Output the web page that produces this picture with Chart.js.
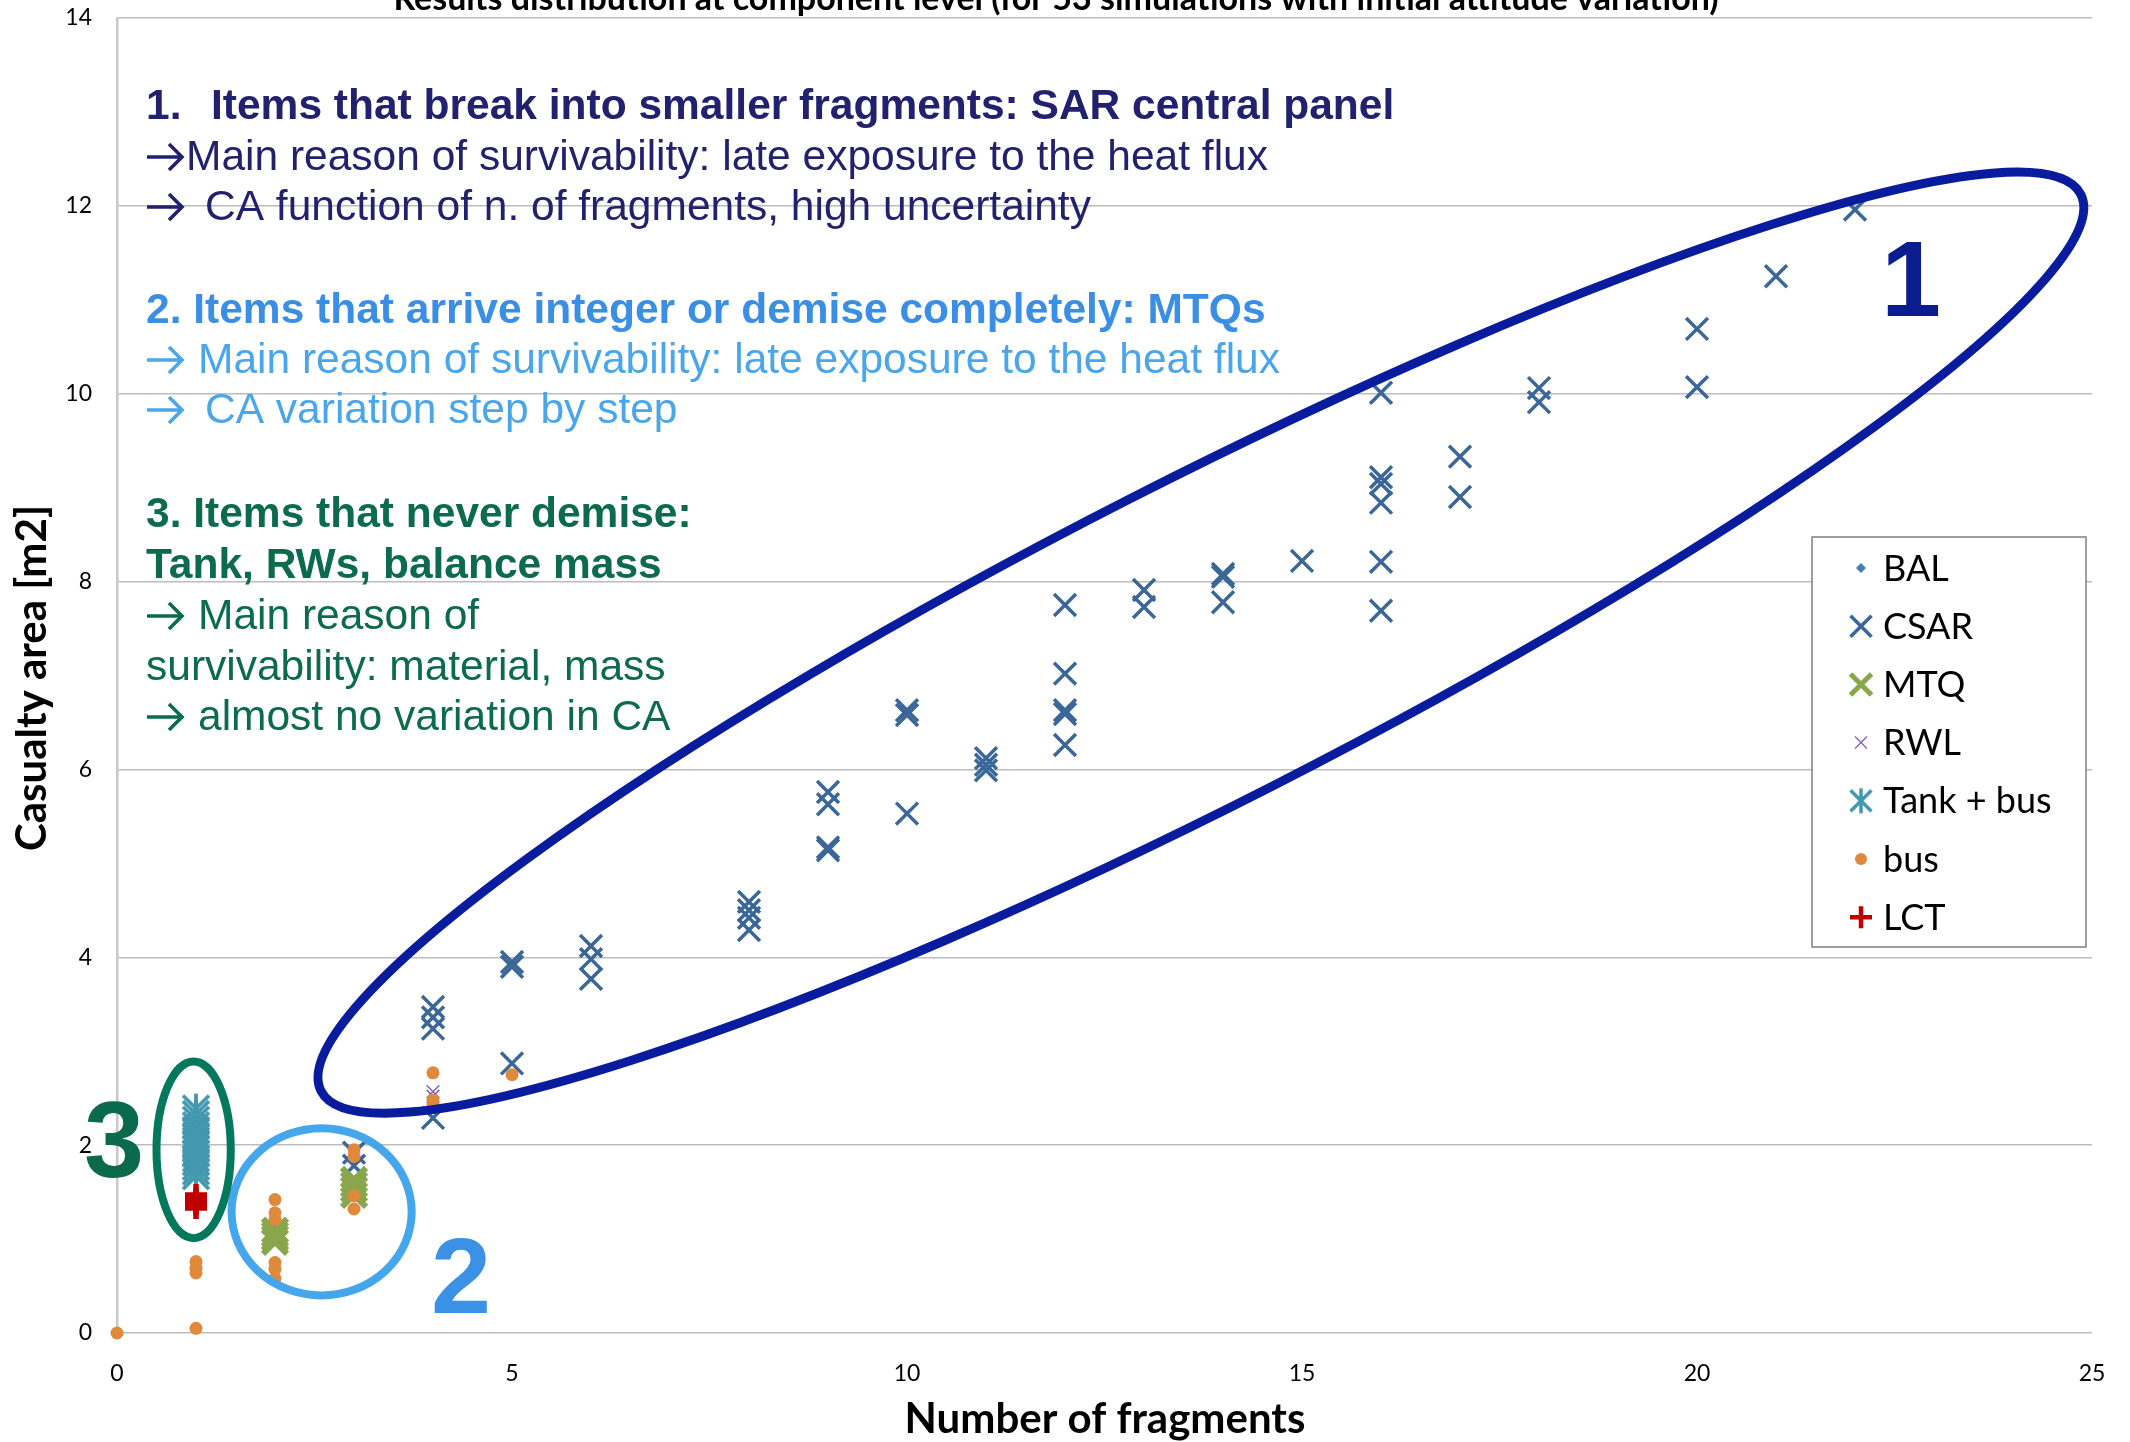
<!DOCTYPE html>
<html>
<head>
<meta charset="utf-8">
<script src="https://cdn.jsdelivr.net/npm/chart.js@4.4.1/dist/chart.umd.min.js"></script>
<style>
  html, body { margin: 0; padding: 0; background: #ffffff; }
  #wrap { width: 2130px; height: 1442px; }
</style>
</head>
<body>
<div id="wrap"><canvas id="c" width="2130" height="1442"></canvas></div>
<script>
// Number of fragments (x) and casualty area in m2 (y) for each component type
const balFragments = [1, 2];
const balArea      = [0.66, 1.16];

const csarFragments = [3, 3,  4, 4, 4, 4,  5, 5, 5,  6, 6, 6,  8, 8, 8, 8,  9, 9, 9, 9,
                       10, 10, 10,  11, 11, 11,  12, 12, 12, 12, 12,  13, 13,  14, 14, 14,  15,
                       16, 16, 16, 16, 16, 16,  17, 17,  18, 18,  20, 20,  21,  22];
const csarArea = [1.92, 1.78,  3.47, 3.36, 3.24, 2.29,  3.95, 3.90, 2.87,  4.12, 3.98, 3.77,
                  4.59, 4.50, 4.42, 4.29,  5.76, 5.63, 5.17, 5.14,  6.63, 6.58, 5.53,
                  6.12, 6.05, 5.99,  7.75, 7.02, 6.63, 6.59, 6.26,  7.91, 7.73,  8.08, 8.05, 7.78,
                  8.22,  10.01, 9.11, 9.04, 8.84, 8.21, 7.69,  9.33, 8.90,  10.06, 9.91,
                  10.69, 10.07,  11.25,  11.96];

const mtqFragments = [2, 2, 2, 2,  3, 3, 3, 3];
const mtqArea      = [1.09, 1.05, 1.01, 0.97,  1.63, 1.58, 1.53, 1.47];

const rwlFragments = [4, 4];
const rwlArea      = [2.57, 2.52];

const tankFragments = [1, 1, 1, 1, 1, 1, 1, 1, 1, 1, 1, 1, 1, 1, 1];
const tankArea      = [2.39, 2.33, 2.27, 2.21, 2.16, 2.10, 2.05, 2.00, 1.96, 1.91, 1.86, 1.82, 1.77, 1.72, 1.67];

const busFragments = [0,  1, 1, 1, 1,  2, 2, 2, 2, 2, 2,  3, 3, 3, 3,  4, 4, 4,  5];
const busArea      = [0,  0.76, 0.69, 0.64, 0.05,  1.42, 1.28, 1.21, 0.75, 0.68, 0.58,
                      1.95, 1.88, 1.46, 1.32,  2.77, 2.48, 2.43,  2.75];

const lctFragments = [1, 1, 1, 1];
const lctArea      = [1.47, 1.42, 1.37, 1.33];

const seriesNames = ['BAL', 'CSAR', 'MTQ', 'RWL', 'Tank + bus', 'bus', 'LCT'];
const xTickValues = [0, 5, 10, 15, 20, 25];
const yTickValues = [0, 2, 4, 6, 8, 10, 12, 14];

const chartTitle = 'Results distribution at component level (for 53 simulations with initial attitude variation)';
const xTitle = 'Number of fragments';
const yTitle = 'Casualty area [m2]';

const pts = (xs, ys) => xs.map((x, i) => ({ x: x, y: ys[i] }));

// Excel-style asterisk marker (X with a vertical bar)
function asteriskMarker(size, half, color, lw) {
  const c = document.createElement('canvas');
  c.width = size; c.height = size;
  const g = c.getContext('2d');
  const m = size / 2;
  g.strokeStyle = color; g.lineWidth = lw;
  g.beginPath();
  g.moveTo(m - half, m - half); g.lineTo(m + half, m + half);
  g.moveTo(m + half, m - half); g.lineTo(m - half, m + half);
  g.moveTo(m, m - half - 2); g.lineTo(m, m + half + 2);
  g.stroke();
  return c;
}

const COLORS = {
  bal: '#4a7bb8', csar: '#3a6698', mtq: '#88a64b', rwl: '#8668a8',
  tank: '#4398b0', bus: '#e0893c', lct: '#c00000'
};
const tankMarker = asteriskMarker(34, 13, COLORS.tank, 3.8);
const tankLegendMarker = asteriskMarker(28, 10.5, COLORS.tank, 3.5);

const datasets = [
  { label: seriesNames[0], data: pts(balFragments, balArea), pointStyle: 'rectRot', pointRadius: 6,
    backgroundColor: COLORS.bal, borderColor: COLORS.bal, borderWidth: 0, order: 6 },
  { label: seriesNames[1], data: pts(csarFragments, csarArea), pointStyle: 'crossRot', pointRadius: 15.5,
    backgroundColor: COLORS.csar, borderColor: COLORS.csar, borderWidth: 3.5, order: 5 },
  { label: seriesNames[2], data: pts(mtqFragments, mtqArea), pointStyle: 'crossRot', pointRadius: 17,
    backgroundColor: COLORS.mtq, borderColor: COLORS.mtq, borderWidth: 6, order: 4 },
  { label: seriesNames[3], data: pts(rwlFragments, rwlArea), pointStyle: 'crossRot', pointRadius: 9,
    backgroundColor: COLORS.rwl, borderColor: COLORS.rwl, borderWidth: 1.6, order: 3 },
  { label: seriesNames[4], data: pts(tankFragments, tankArea), pointStyle: tankMarker,
    backgroundColor: COLORS.tank, borderColor: COLORS.tank, order: 2 },
  { label: seriesNames[5], data: pts(busFragments, busArea), pointStyle: 'circle', pointRadius: 6.5,
    backgroundColor: COLORS.bus, borderColor: COLORS.bus, borderWidth: 0, order: 1 },
  { label: seriesNames[6], data: pts(lctFragments, lctArea), pointStyle: 'cross', pointRadius: 11,
    backgroundColor: COLORS.lct, borderColor: COLORS.lct, borderWidth: 5.5, order: 0 }
];
datasets.forEach(d => { d.clip = false; d.showLine = false; });

// Legend marker painter (same shapes as the plotted points)
function legendMarker(ctx, idx, x, y) {
  ctx.save();
  switch (idx) {
    case 0:
      ctx.fillStyle = COLORS.bal;
      ctx.beginPath(); ctx.moveTo(x, y - 5); ctx.lineTo(x + 5, y); ctx.lineTo(x, y + 5); ctx.lineTo(x - 5, y); ctx.closePath(); ctx.fill();
      break;
    case 1: case 2: case 3: {
      const col = idx === 1 ? COLORS.csar : idx === 2 ? COLORS.mtq : COLORS.rwl;
      const h = idx === 3 ? 6 : 10.5;
      ctx.strokeStyle = col; ctx.lineWidth = idx === 1 ? 3.5 : idx === 2 ? 5 : 1.4;
      ctx.beginPath(); ctx.moveTo(x - h, y - h); ctx.lineTo(x + h, y + h);
      ctx.moveTo(x + h, y - h); ctx.lineTo(x - h, y + h); ctx.stroke();
      break;
    }
    case 4:
      ctx.drawImage(tankLegendMarker, x - tankLegendMarker.width / 2, y - tankLegendMarker.height / 2);
      break;
    case 5:
      ctx.fillStyle = COLORS.bus;
      ctx.beginPath(); ctx.arc(x, y, 6, 0, Math.PI * 2); ctx.fill();
      break;
    case 6:
      ctx.strokeStyle = COLORS.lct; ctx.lineWidth = 4.5;
      ctx.beginPath(); ctx.moveTo(x - 11, y); ctx.lineTo(x + 11, y); ctx.moveTo(x, y - 11); ctx.lineTo(x, y + 11); ctx.stroke();
      break;
  }
  ctx.restore();
}

// Bullet arrow in front of a note line
function drawArrow(ctx, baseline, color) {
  const y = baseline - 13, x0 = 147, x1 = 182;
  ctx.save();
  ctx.strokeStyle = color; ctx.lineWidth = 3.6; ctx.lineCap = 'butt'; ctx.lineJoin = 'miter';
  ctx.beginPath();
  ctx.moveTo(x0, y); ctx.lineTo(x1 - 2, y);
  ctx.moveTo(x1 - 13, y - 13); ctx.lineTo(x1, y); ctx.lineTo(x1 - 13, y + 13);
  ctx.stroke();
  ctx.restore();
}

// Notes written over the plot: optional arrow, then text
const NAVY = '#21216e', SKY = '#3a8fe4', SKY_LIGHT = '#4aa6ea', GREEN = '#0b6b4c';
const BOLD = 'bold 42.5px "Liberation Sans"', REG = '42.5px "Liberation Sans"';
const noteLines = [
  { arrow: false, t: '1.', x: 146, y: 119, font: BOLD, c: NAVY },
  { arrow: false, t: 'Items that break into smaller fragments: SAR central panel', x: 211, y: 119, font: BOLD, c: NAVY },
  { arrow: true, t: 'Main reason of survivability: late exposure to the heat flux', x: 186, y: 170, font: REG, c: NAVY },
  { arrow: true, t: 'CA function of n. of fragments, high uncertainty', x: 205, y: 220, font: REG, c: NAVY },
  { arrow: false, t: '2. Items that arrive integer or demise completely: MTQs', x: 146, y: 323, font: BOLD, c: SKY },
  { arrow: true, t: 'Main reason of survivability: late exposure to the heat flux', x: 198, y: 373, font: REG, c: SKY_LIGHT },
  { arrow: true, t: 'CA variation step by step', x: 205, y: 423, font: REG, c: SKY_LIGHT },
  { arrow: false, t: '3. Items that never demise:', x: 146, y: 527, font: BOLD, c: GREEN },
  { arrow: false, t: 'Tank, RWs, balance mass', x: 146, y: 578, font: BOLD, c: GREEN },
  { arrow: true, t: 'Main reason of', x: 198, y: 629, font: REG, c: GREEN },
  { arrow: false, t: 'survivability: material, mass', x: 146, y: 680, font: REG, c: GREEN },
  { arrow: true, t: 'almost no variation in CA', x: 198, y: 730, font: REG, c: GREEN }
];

const overlay = {
  id: 'overlay',
  afterDatasetsDraw(chart) {
    const ctx = chart.ctx;
    const xs = chart.scales.x, ys = chart.scales.y;
    const ux = xs.getPixelForValue(1) - xs.getPixelForValue(0);
    const uy = ys.getPixelForValue(0) - ys.getPixelForValue(1);

    // group outlines
    const ring = (cx, cy, rx, ry, rot, color, lw) => {
      ctx.save();
      ctx.strokeStyle = color; ctx.lineWidth = lw;
      ctx.beginPath();
      ctx.ellipse(xs.getPixelForValue(cx), ys.getPixelForValue(cy), rx, ry, rot, 0, Math.PI * 2);
      ctx.stroke();
      ctx.restore();
    };
    ring(13.72, 7.35, 12.5 * ux, 2.03 * ux, -27 * Math.PI / 180, '#0a1c9e', 9);
    ring(2.59, 1.29, 1.14 * ux, 0.89 * uy, 0, '#45a6ec', 8);
    ring(0.97, 1.95, 0.47 * ux, 0.94 * uy, 0, '#04785c', 8);

    // group numbers
    ctx.save();
    ctx.textAlign = 'center'; ctx.textBaseline = 'alphabetic';
    ctx.font = 'bold 108px "Liberation Sans"';
    ctx.fillStyle = '#0b1c8e'; ctx.fillText('1', 1911, 316);
    ctx.fillStyle = '#3a91e6'; ctx.fillText('2', 461, 1313);
    ctx.fillStyle = '#0a6b4c'; ctx.fillText('3', 114, 1177);
    ctx.restore();

    // notes
    ctx.save();
    ctx.textAlign = 'left'; ctx.textBaseline = 'alphabetic';
    noteLines.forEach(l => {
      if (l.arrow) drawArrow(ctx, l.y, l.c);
      ctx.fillStyle = l.c;
      ctx.font = l.font;
      ctx.fillText(l.t, l.x, l.y);
    });
    ctx.restore();

    // title (partly above the canvas edge)
    ctx.save();
    ctx.textAlign = 'center'; ctx.textBaseline = 'alphabetic';
    ctx.font = 'bold 34px Lato'; ctx.fillStyle = '#000000';
    ctx.fillText(chartTitle, 1056, 10);
    // axis titles
    ctx.font = 'bold 42px Lato';
    ctx.fillText(xTitle, 1105, 1433);
    ctx.translate(46, 678); ctx.rotate(-Math.PI / 2);
    ctx.fillText(yTitle, 0, 0);
    ctx.restore();

    // legend box
    ctx.save();
    ctx.fillStyle = '#ffffff';
    ctx.fillRect(1812, 537, 274, 410);
    ctx.strokeStyle = '#7f7f7f'; ctx.lineWidth = 1.5;
    ctx.strokeRect(1812, 537, 274, 410);
    ctx.font = '36px Lato'; ctx.fillStyle = '#000000';
    ctx.textAlign = 'left'; ctx.textBaseline = 'middle';
    seriesNames.forEach((n, i) => {
      const y = 568 + i * 58.2;
      legendMarker(ctx, i, 1861, y);
      ctx.fillText(n, 1883, y + 1);
    });
    ctx.restore();
  }
};

new Chart(document.getElementById('c'), {
  type: 'scatter',
  data: { datasets: datasets },
  options: {
    responsive: false,
    animation: false,
    events: [],
    layout: { autoPadding: false, padding: { top: 18, right: 38, left: 0, bottom: 0 } },
    plugins: { legend: { display: false }, tooltip: { enabled: false }, title: { display: false } },
    scales: {
      x: {
        type: 'linear', min: 0, max: 25,
        afterBuildTicks: s => { s.ticks = xTickValues.map(v => ({ value: v })); },
        afterFit: s => { s.height = 109; s.paddingLeft = 0; s.paddingRight = 0; },
        grid: { display: false, drawTicks: false },
        border: { display: false },
        ticks: { padding: 27, font: { family: 'Lato', size: 23 }, color: '#000000', maxRotation: 0 }
      },
      y: {
        type: 'linear', min: 0, max: 14,
        afterBuildTicks: s => { s.ticks = yTickValues.map(v => ({ value: v })); },
        afterFit: s => { s.width = 117; s.paddingTop = 0; s.paddingBottom = 0; },
        grid: { color: '#bcbcbc', lineWidth: 1.5, drawTicks: false },
        border: { display: true, color: '#c8c8c8', width: 2.5 },
        ticks: { padding: 25, font: { family: 'Lato', size: 23 }, color: '#000000' }
      }
    }
  },
  plugins: [overlay]
});
</script>
</body>
</html>
